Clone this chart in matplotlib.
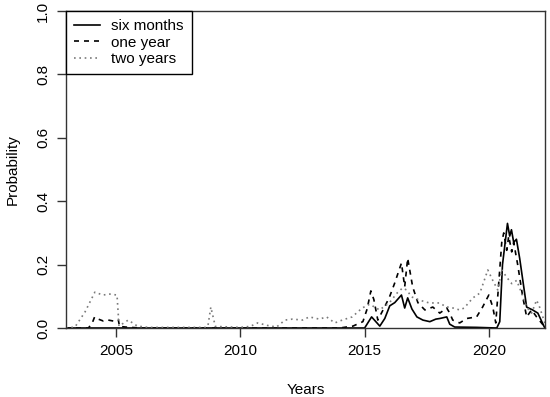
import numpy as np
import matplotlib
matplotlib.use("Agg")
from matplotlib import pyplot as plt

# Probability series (year, value)
six_months_years = [2003.0, 2015.0, 2015.28, 2015.61, 2015.81, 2016.01, 2016.21, 2016.48,
                    2016.61, 2016.73, 2016.9, 2017.1, 2017.34, 2017.62, 2017.86, 2018.02,
                    2018.3, 2018.42, 2018.62, 2019.5, 2020.31, 2020.43, 2020.54, 2020.74,
                    2020.83, 2020.9, 2020.99, 2021.1, 2021.23, 2021.43, 2021.51, 2021.75,
                    2021.96, 2022.12, 2022.24]
six_months = [0.0, 0.0, 0.035, 0.006, 0.03, 0.07, 0.08, 0.104,
              0.063, 0.095, 0.06, 0.035, 0.025, 0.02, 0.028, 0.03,
              0.035, 0.012, 0.003, 0.002, 0.0, 0.02, 0.2, 0.33,
              0.29, 0.31, 0.27, 0.28, 0.22, 0.11, 0.066, 0.057,
              0.047, 0.02, 0.0]

one_year_years = [2003.0, 2003.9, 2004.05, 2004.15, 2004.3, 2004.5, 2004.7, 2004.9, 2005.1,
                  2005.15, 2005.4, 2006.0, 2014.0, 2014.53, 2014.93, 2015.1, 2015.25,
                  2015.37, 2015.53, 2015.8, 2016.0, 2016.2, 2016.48, 2016.61, 2016.73,
                  2016.93, 2017.14, 2017.42, 2017.74, 2018.02, 2018.3, 2018.42, 2018.54,
                  2018.82, 2019.1, 2019.5, 2019.74, 2019.99, 2020.15, 2020.27, 2020.51,
                  2020.59, 2020.71, 2020.79, 2020.91, 2020.99, 2021.15, 2021.35, 2021.51,
                  2021.71, 2021.91, 2022.24]
one_year = [0.0, 0.0, 0.015, 0.035, 0.028, 0.022, 0.025, 0.022, 0.027,
            0.005, 0.003, 0.0, 0.0, 0.006, 0.02, 0.06, 0.117,
            0.09, 0.025, 0.066, 0.098, 0.14, 0.205, 0.13, 0.22,
            0.13, 0.08, 0.057, 0.066, 0.047, 0.063, 0.047, 0.025,
            0.016, 0.03, 0.035, 0.066, 0.104, 0.066, 0.016, 0.27,
            0.30, 0.245, 0.29, 0.24, 0.27, 0.2, 0.1, 0.035,
            0.057, 0.035, 0.003]

two_years_years = [2003.0, 2003.36, 2003.76, 2004.16, 2004.48, 2004.76, 2005.05, 2005.13,
                   2005.5, 2005.87, 2006.3, 2008.6, 2008.7, 2008.82, 2009.0, 2010.0,
                   2010.4, 2010.7, 2011.1, 2011.46, 2011.8, 2012.1, 2012.5, 2012.78,
                   2013.18, 2013.47, 2013.8, 2014.1, 2014.5, 2014.9, 2015.2, 2015.6,
                   2016.0, 2016.3, 2016.52, 2016.69, 2016.89, 2017.2, 2017.6, 2018.0,
                   2018.3, 2018.42, 2018.82, 2019.0, 2019.35, 2019.63, 2019.95, 2020.15,
                   2020.35, 2020.51, 2020.71, 2020.91, 2021.11, 2021.31, 2021.51, 2021.71,
                   2021.91, 2022.03, 2022.24]
two_years = [0.0, 0.003, 0.05, 0.113, 0.104, 0.107, 0.104, 0.006,
             0.025, 0.006, 0.002, 0.002, 0.005, 0.066, 0.005, 0.002,
             0.005, 0.016, 0.008, 0.003, 0.025, 0.028, 0.025, 0.035,
             0.028, 0.035, 0.016, 0.025, 0.035, 0.063, 0.075, 0.057,
             0.08, 0.11, 0.126, 0.12, 0.098, 0.088, 0.079, 0.079,
             0.066, 0.066, 0.057, 0.063, 0.095, 0.11, 0.183, 0.15,
             0.12, 0.183, 0.16, 0.14, 0.15, 0.11, 0.066, 0.047,
             0.088, 0.066, 0.016]

x_ticks = [2005, 2010, 2015, 2020]
y_ticks = [0.0, 0.2, 0.4, 0.6, 0.8, 1.0]

plt.rcParams['font.family'] = ['Liberation Sans', 'DejaVu Sans']

fig = plt.figure(figsize=(5.5, 3.97), dpi=100)
ax = fig.add_axes([0.12, 0.1738, 0.871, 0.7985])

ax.plot(six_months_years, six_months, color='black', lw=1.2, label='six months')
ax.plot(one_year_years, one_year, color='black', lw=1.2, dashes=(3, 3), label='one year')
ax.plot(two_years_years, two_years, color='#7a7a7a', lw=1.2, dashes=(1, 2.2), label='two years')

ax.set_xlim(2003.0, 2022.25)
ax.set_ylim(0, 1)
ax.set_xticks(x_ticks)
ax.set_yticks(y_ticks)
ax.set_yticklabels([f"{v:.1f}" for v in y_ticks], rotation=90, va='center')
ax.tick_params(direction='out', length=6.5, width=1, colors='#333333', labelcolor='black',
               labelsize=11, pad=5)
for s in ax.spines.values():
	s.set_color('#333333')
	s.set_linewidth(1)

ax.set_xlabel('Years', fontsize=11, labelpad=18)
ax.set_ylabel('Probability', fontsize=11, labelpad=12)

leg = ax.legend(loc='upper left', bbox_to_anchor=(0, 1), borderaxespad=0, fontsize=11,
                fancybox=False, edgecolor='black', framealpha=1, handlelength=1.65,
                handletextpad=0.75, labelspacing=0.15, borderpad=0.55)
leg.get_frame().set_linewidth(1)

fig.savefig('out.png', dpi=100)
